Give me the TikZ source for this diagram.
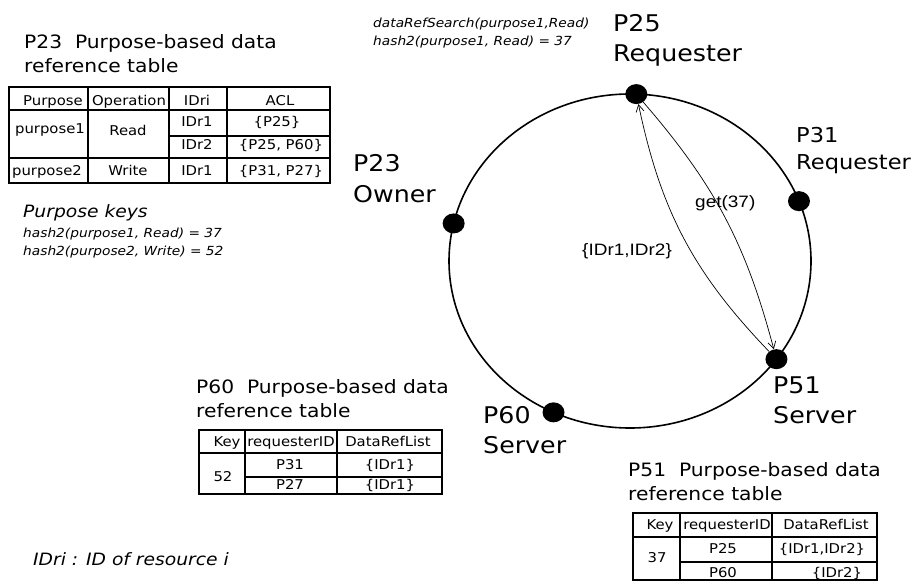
\documentclass[tikz,border=0pt]{standalone}
\usepackage{fontspec}
\setmainfont{DejaVu Sans}[FakeStretch=1.1]
\newfontfamily\arialfont{Liberation Sans}[FakeStretch=1.15]
\usetikzlibrary{shapes.geometric,arrows.meta,positioning,calc}

\begin{document}
\begin{tikzpicture}[
    x=1pt, y=1pt,
    peer/.style={ellipse, fill=black, minimum width=22pt, minimum height=20pt, inner sep=0},
    peerlabel/.style={font=\fontsize{23}{30}\selectfont, align=left, anchor=base west, inner sep=0},
    heading/.style={font=\fontsize{18.4}{24}\selectfont, align=left, anchor=base west, inner sep=0},
    note/.style={font=\itshape\fontsize{12.5}{18.5}\selectfont, align=left, anchor=base west, inner sep=0},
    bignote/.style={font=\itshape\fontsize{17}{20}\selectfont, anchor=base west, inner sep=0},
    cell/.style={font=\fontsize{13.5}{16}\selectfont, inner sep=0, text height=9.8pt, text depth=0pt},
    tbl/.style={line width=1.2pt},
    msg/.style={-{Straight Barb[length=7pt, width=8pt]}, line width=0.7pt},
    msglabel/.style={font=\arialfont\fontsize{16.5}{18}\selectfont, anchor=base west, inner sep=0}
]
\useasboundingbox (0,0) rectangle (915,582);

% ring
\coordinate (ctr) at (630,321);
\draw[line width=1.6pt] (ctr) ellipse [x radius=181, y radius=167];

% peers on the ring
\node[peer] (p25) at ($(ctr)+(88:181 and 167)$) {};
\node[peer] (p31) at ($(ctr)+(21:181 and 167)$) {};
\node[peer] (p51) at ($(ctr)+(-36:181 and 167)$) {};
\node[peer] (p60) at ($(ctr)+(-115:181 and 167)$) {};
\node[peer] (p23) at ($(ctr)+(167:181 and 167)$) {};

% (base = last line)
\node[peerlabel] (lbl25) at (613,520) {P25\\Requester};
\node[peerlabel, font=\fontsize{20.5}{27}\selectfont] (lbl31) at (796,412) {P31\\Requester};
\node[peerlabel] (lbl23) at (353,380) {P23\\Owner};
\node[peerlabel] (lbl51) at (773,159) {P51\\Server};
\node[peerlabel] (lbl60) at (483,129) {P60\\Server};

% lookup messages
\draw[msg] (p25) to[bend left=13] (p51);
\draw[msg] (p51) to[bend left=16] (p25);
\node[msglabel] (getlbl) at (695,374) {get(37)};
\node[msglabel] (reslbl) at (582,327) {\{IDr1,IDr2\}};

% notes
\node[note] (search) at (373,536) {dataRefSearch(purpose1,Read)\\hash2(purpose1, Read) = 37};
\node[bignote] (keys) at (23,365) {Purpose keys};
\node[note] (keylist) at (23,326.5) {hash2(purpose1, Read) = 37\\hash2(purpose2, Write) = 52};
\node[bignote] (legend) at (33,17) {IDri : ID of resource i};

% P23 table
\node[heading] (h23) at (24,509) {P23\ \ Purpose-based data\\reference table};
\draw[tbl] (9,399) rectangle (330,495);
\draw[tbl] (9,472) -- (330,472);
\draw[tbl] (9,424) -- (330,424);
\draw[tbl] (169,446) -- (330,446);
\draw[tbl] (88,399) -- (88,495);
\draw[tbl] (169,399) -- (169,495);
\draw[tbl] (227,399) -- (227,495);
\node[cell] (t1a) at (53,481) {Purpose};
\node[cell] (t1b) at (129,481) {Operation};
\node[cell] (t1c) at (197,481) {IDri};
\node[cell] (t1d) at (280,481) {ACL};
\node[cell] (t1e) at (50,453) {purpose1};
\node[cell] (t1f) at (128,451) {Read};
\node[cell] (t1g) at (197,460) {IDr1};
\node[cell] (t1h) at (277,460) {\{P25\}};
\node[cell] (t1i) at (197,437) {IDr2};
\node[cell] (t1j) at (281,437) {\{P25, P60\}};
\node[cell] (t1k) at (47,411) {purpose2};
\node[cell] (t1l) at (128,411) {Write};
\node[cell] (t1m) at (197,411) {IDr1};
\node[cell] (t1n) at (281,411) {\{P31, P27\}};

% P60 table
\node[heading] (h60) at (196,165) {P60\ \ Purpose-based data\\reference table};
\draw[tbl] (199,88) rectangle (442,152);
\draw[tbl] (199,129) -- (442,129);
\draw[tbl] (245,105) -- (442,105);
\draw[tbl] (245,88) -- (245,152);
\draw[tbl] (337,88) -- (337,152);
\node[cell] (t2a) at (227,140) {Key};
\node[cell] (t2b) at (291,140) {requesterID};
\node[cell] (t2c) at (388,140) {DataRefList};
\node[cell] (t2d) at (223,105) {52};
\node[cell] (t2e) at (290,117) {P31};
\node[cell] (t2f) at (390,117) {\{IDr1\}};
\node[cell] (t2g) at (290,97) {P27};
\node[cell] (t2h) at (390,97) {\{IDr1\}};

% P51 table
\node[heading] (h51) at (628,82) {P51\ \ Purpose-based data\\reference table};
\draw[tbl] (633,2) rectangle (877,69);
\draw[tbl] (633,45) -- (877,45);
\draw[tbl] (680,20) -- (877,20);
\draw[tbl] (680,2) -- (680,69);
\draw[tbl] (772,2) -- (772,69);
\node[cell] (t3a) at (660,57) {Key};
\node[cell] (t3b) at (727,57) {requesterID};
\node[cell] (t3c) at (826,57) {DataRefList};
\node[cell] (t3d) at (657,24) {37};
\node[cell] (t3e) at (723,33) {P25};
\node[cell] (t3f) at (822,33) {\{IDr1,IDr2\}};
\node[cell] (t3g) at (723,9) {P60};
\node[cell] (t3h) at (837,9) {\{IDr2\}};

\end{tikzpicture}
\end{document}
